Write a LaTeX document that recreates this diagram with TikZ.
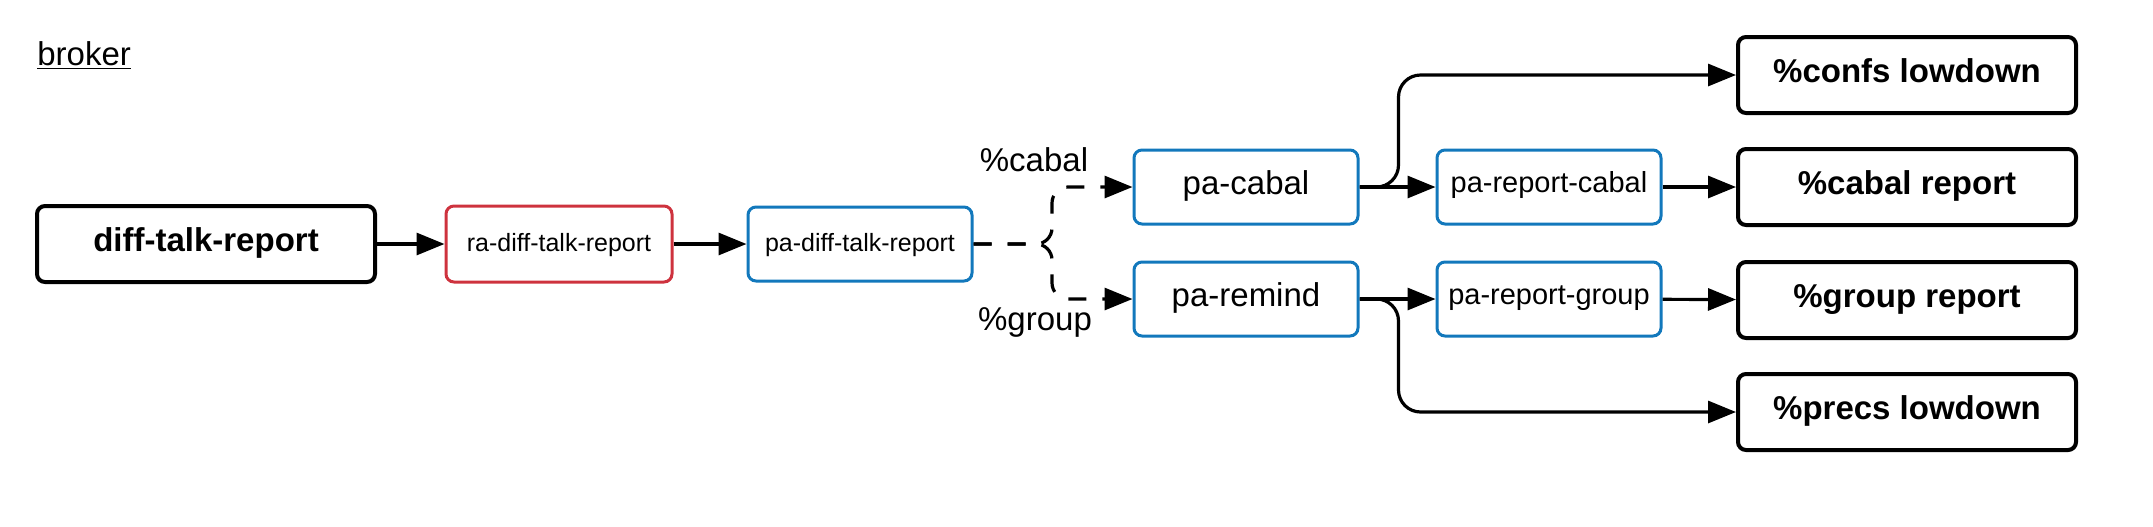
\documentclass[tikz,border=0pt]{standalone}
\usepackage{fontspec}
\setmainfont{Liberation Sans}
\usetikzlibrary{arrows.meta}
\definecolor{rared}{RGB}{206,50,62}
\definecolor{pablue}{RGB}{18,120,188}
\newcommand{\bigtxt}{\fontsize{16.5}{20}\selectfont}
\newcommand{\midtxt}{\fontsize{14.5}{17}\selectfont}
\newcommand{\smalltxt}{\fontsize{12.5}{15}\selectfont}
\tikzset{
  outbox/.style={draw, line width=2pt, rounded corners=4pt, minimum width=169pt, minimum height=38pt,
    text height=0.9em, text depth=0.14em, font=\bigtxt\bfseries},
  rabox/.style={draw=rared, line width=1.5pt, rounded corners=4pt, minimum width=113pt, minimum height=38pt,
    text height=0.9em, text depth=0.14em, font=\smalltxt},
  pabox/.style={draw=pablue, line width=1.5pt, rounded corners=4pt, minimum width=112pt, minimum height=37pt,
    text height=0.9em, text depth=0.14em},
  conn/.style={line width=1.6pt, -{Triangle[length=14pt,width=11pt]}},
}
\begin{document}
\begin{tikzpicture}[x=0.5pt,y=-0.5pt]
  \useasboundingbox (0,0) rectangle (2153,526);

  % Title
  \node[anchor=base west, inner sep=0pt, font=\bigtxt] (broker) at (37,65) {\underline{broker}};

  % Main chain
  \node[outbox] (dtr) at (206,244) {diff-talk-report};
  \node[rabox] (ra) at (559,244) {ra-diff-talk-report};
  \node[pabox, font=\smalltxt] (pdt) at (860,244) {pa-diff-talk-report};

  % Branches
  \node[pabox, font=\bigtxt] (pc) at (1246,187) {pa-cabal};
  \node[pabox, font=\bigtxt] (pr) at (1246,299) {pa-remind};
  \node[pabox, font=\midtxt, text height=0.72em, text depth=0.16em] (prc) at (1549,187) {pa-report-cabal};
  \node[pabox, font=\midtxt, text height=0.72em, text depth=0.16em] (prg) at (1549,299) {pa-report-group};

  % Outputs
  \node[outbox] (confs) at (1907,75) {\%confs lowdown};
  \node[outbox] (cabalrep) at (1907,187) {\%cabal report};
  \node[outbox] (grouprep) at (1907,300) {\%group report};
  \node[outbox] (precs) at (1907,412) {\%precs lowdown};

  % Branch labels
  \node[font=\bigtxt] (lcabal) at (1034,160) {\%cabal};
  \node[font=\bigtxt] (lgroup) at (1035,322) {\%group};

  % Connectors
  \coordinate (fork) at (1052,244);
  \draw[conn] (dtr) -- (ra);
  \draw[conn] (ra) -- (pdt);
  \draw[conn, dash pattern=on 9pt off 8pt, rounded corners=8pt] (pdt.east) -- (fork) |- (pc.west);
  \draw[conn, dash pattern=on 9pt off 8pt, rounded corners=8pt] (pdt.east) -- (fork) |- (pr.west);
  \draw[conn] (pc) -- (prc);
  \draw[conn, rounded corners=11pt] (pc.east) -- ++(39,0) |- (confs.west);
  \draw[conn] (prc) -- (cabalrep);
  \draw[conn] (pr) -- (prg);
  \draw[conn, rounded corners=11pt] (pr.east) -- ++(39,0) |- (precs.west);
  \draw[conn] (prg) -- (grouprep);
\end{tikzpicture}
\end{document}
